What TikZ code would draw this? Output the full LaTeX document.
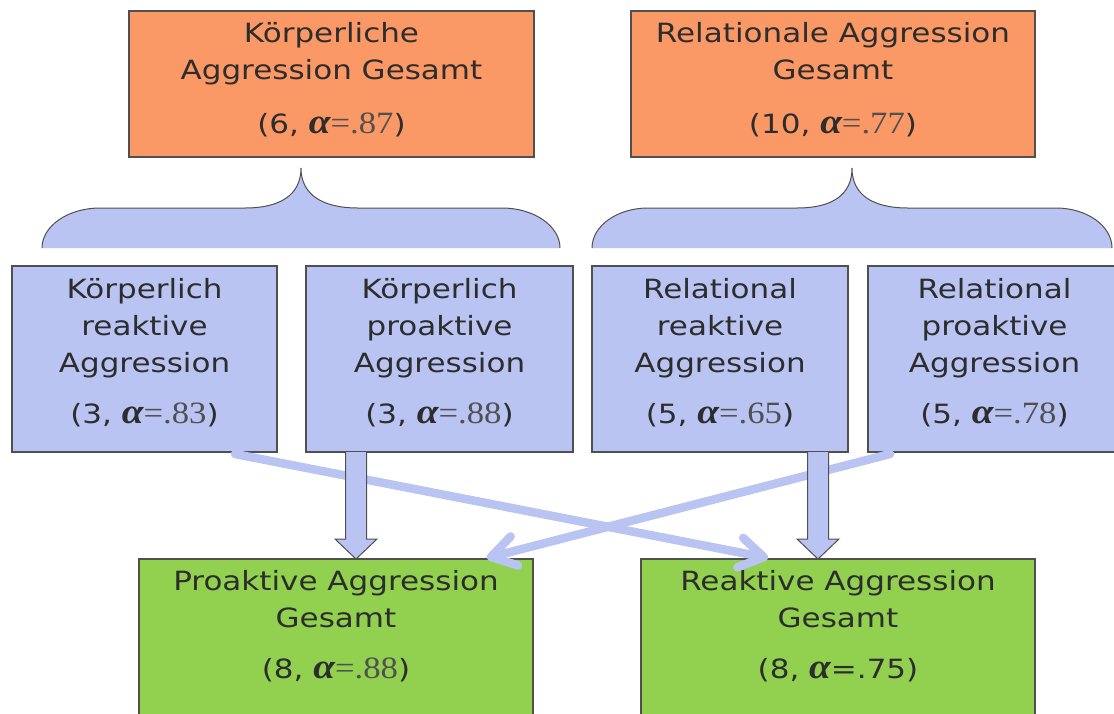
\documentclass[tikz,border=0pt]{standalone}
\usepackage{fontspec}
\setmainfont{DejaVu Sans}[FakeStretch=1.17]
\newfontfamily\serifrm{Liberation Serif}[FakeStretch=1.12]
\usetikzlibrary{calc,arrows.meta}
\definecolor{orangefill}{RGB}{250,152,102}
\definecolor{lavfill}{RGB}{185,196,242}
\definecolor{greenfill}{RGB}{146,208,80}
\definecolor{edgegray}{RGB}{80,80,80}
\definecolor{txt}{RGB}{45,45,45}
\definecolor{numgray}{RGB}{80,80,80}
\newcommand\boxtext[4]{\parbox[c][#2][t]{#1}{\centering\rule{0pt}{#3}#4\par}}
\newcommand\alphasym{{\serifrm\fontsize{35}{37}\selectfont\bfseries\itshape α}}
\newcommand\stat[2]{(#1, \alphasym{\serifrm\fontsize{31}{37}\selectfont\color{numgray}=#2})}
\tikzset{
  box/.style={draw=edgegray, line width=1.1pt, inner sep=0pt, outer sep=0pt,
    anchor=north west, text=txt, font=\fontsize{26.5}{37}\selectfont},
  brace/.style={fill=lavfill, draw=edgegray, line width=1pt},
  blockarrow/.style={fill=lavfill, draw=edgegray, line width=1pt, line join=miter},
  diag/.style={draw=lavfill, line width=8.5pt, line cap=round,
    -{Straight Barb[length=24pt 0 0, width=30pt 0 0, round]}}
}
\begin{document}
\begin{tikzpicture}[x=1pt,y=-1pt]
\useasboundingbox (0,0) rectangle (1114,713);
\fill[white] (0,0) rectangle (1114,713);
\clip (0,0) rectangle (1114,713);

% top boxes
\node[box, fill=orangefill] (ko) at (129,11)
  {\boxtext{405pt}{146pt}{31pt}{Körperliche\\Aggression Gesamt\\[17pt]\stat{6}{.87}}};
\node[box, fill=orangefill] (ro) at (631,11)
  {\boxtext{404pt}{146pt}{31pt}{Relationale Aggression\\Gesamt\\[17pt]\stat{10}{.77}}};

% braces
\path[brace] (42,248) .. controls (42,226) and (68,208) .. (100,208) -- (245,208)
  .. controls (280,208) and (301,195) .. (301,168)
  .. controls (301,195) and (323,208) .. (358,208) -- (502,208)
  .. controls (534,208) and (560,226) .. (560,248);
\path[brace] (592,248) .. controls (592,226) and (617,208) .. (648,208) -- (797,208)
  .. controls (832,208) and (852,195) .. (852,168)
  .. controls (852,195) and (873,208) .. (908,208) -- (1056,208)
  .. controls (1087,208) and (1112,226) .. (1112,248);

% middle boxes
\node[box, fill=lavfill] (kr) at (12,266)
  {\boxtext{265pt}{186pt}{32pt}{Körperlich\\reaktive\\Aggression\\[14pt]\stat{3}{.83}}};
\node[box, fill=lavfill] (kp) at (306,266)
  {\boxtext{267pt}{186pt}{32pt}{Körperlich\\proaktive\\Aggression\\[14pt]\stat{3}{.88}}};
\node[box, fill=lavfill] (rr) at (592,266)
  {\boxtext{256pt}{186pt}{32pt}{Relational\\reaktive\\Aggression\\[14pt]\stat{5}{.65}}};
\node[box, fill=lavfill] (rp) at (868,266)
  {\boxtext{253pt}{186pt}{32pt}{Relational\\proaktive\\Aggression\\[14pt]\stat{5}{.78}}};

% bottom boxes
\node[box, fill=greenfill] (pg) at (139,559)
  {\boxtext{394pt}{170pt}{31pt}{Proaktive Aggression\\Gesamt\\[14pt]\stat{8}{.88}}};
\node[box, fill=greenfill] (rg) at (641,559)
  {\boxtext{394pt}{170pt}{31pt}{Reaktive Aggression\\Gesamt\\[14pt](8, \alphasym=.75)}};

% diagonal arrows
\draw[diag] ($(kr.south west)+(223,2)$) -- ($(rg.north west)+(127,-1)$);
\draw[diag] ($(rp.south west)+(22,2)$) -- ($(pg.north west)+(348,-1)$);

% vertical block arrows
\coordinate (v1s) at ($(kp.south west)+(50,0)$);
\coordinate (v1e) at (v1s |- pg.north);
\path[blockarrow] ($(v1s)+(-10.5,0)$) -- ($(v1e)+(-10.5,-20)$) -- ($(v1e)+(-21,-20)$)
  -- (v1e) -- ($(v1e)+(21,-20)$) -- ($(v1e)+(10.5,-20)$) -- ($(v1s)+(10.5,0)$);
\coordinate (v2s) at ($(rr.south west)+(226,0)$);
\coordinate (v2e) at (v2s |- rg.north);
\path[blockarrow] ($(v2s)+(-10.5,0)$) -- ($(v2e)+(-10.5,-20)$) -- ($(v2e)+(-21,-20)$)
  -- (v2e) -- ($(v2e)+(21,-20)$) -- ($(v2e)+(10.5,-20)$) -- ($(v2s)+(10.5,0)$);
\end{tikzpicture}
\end{document}
